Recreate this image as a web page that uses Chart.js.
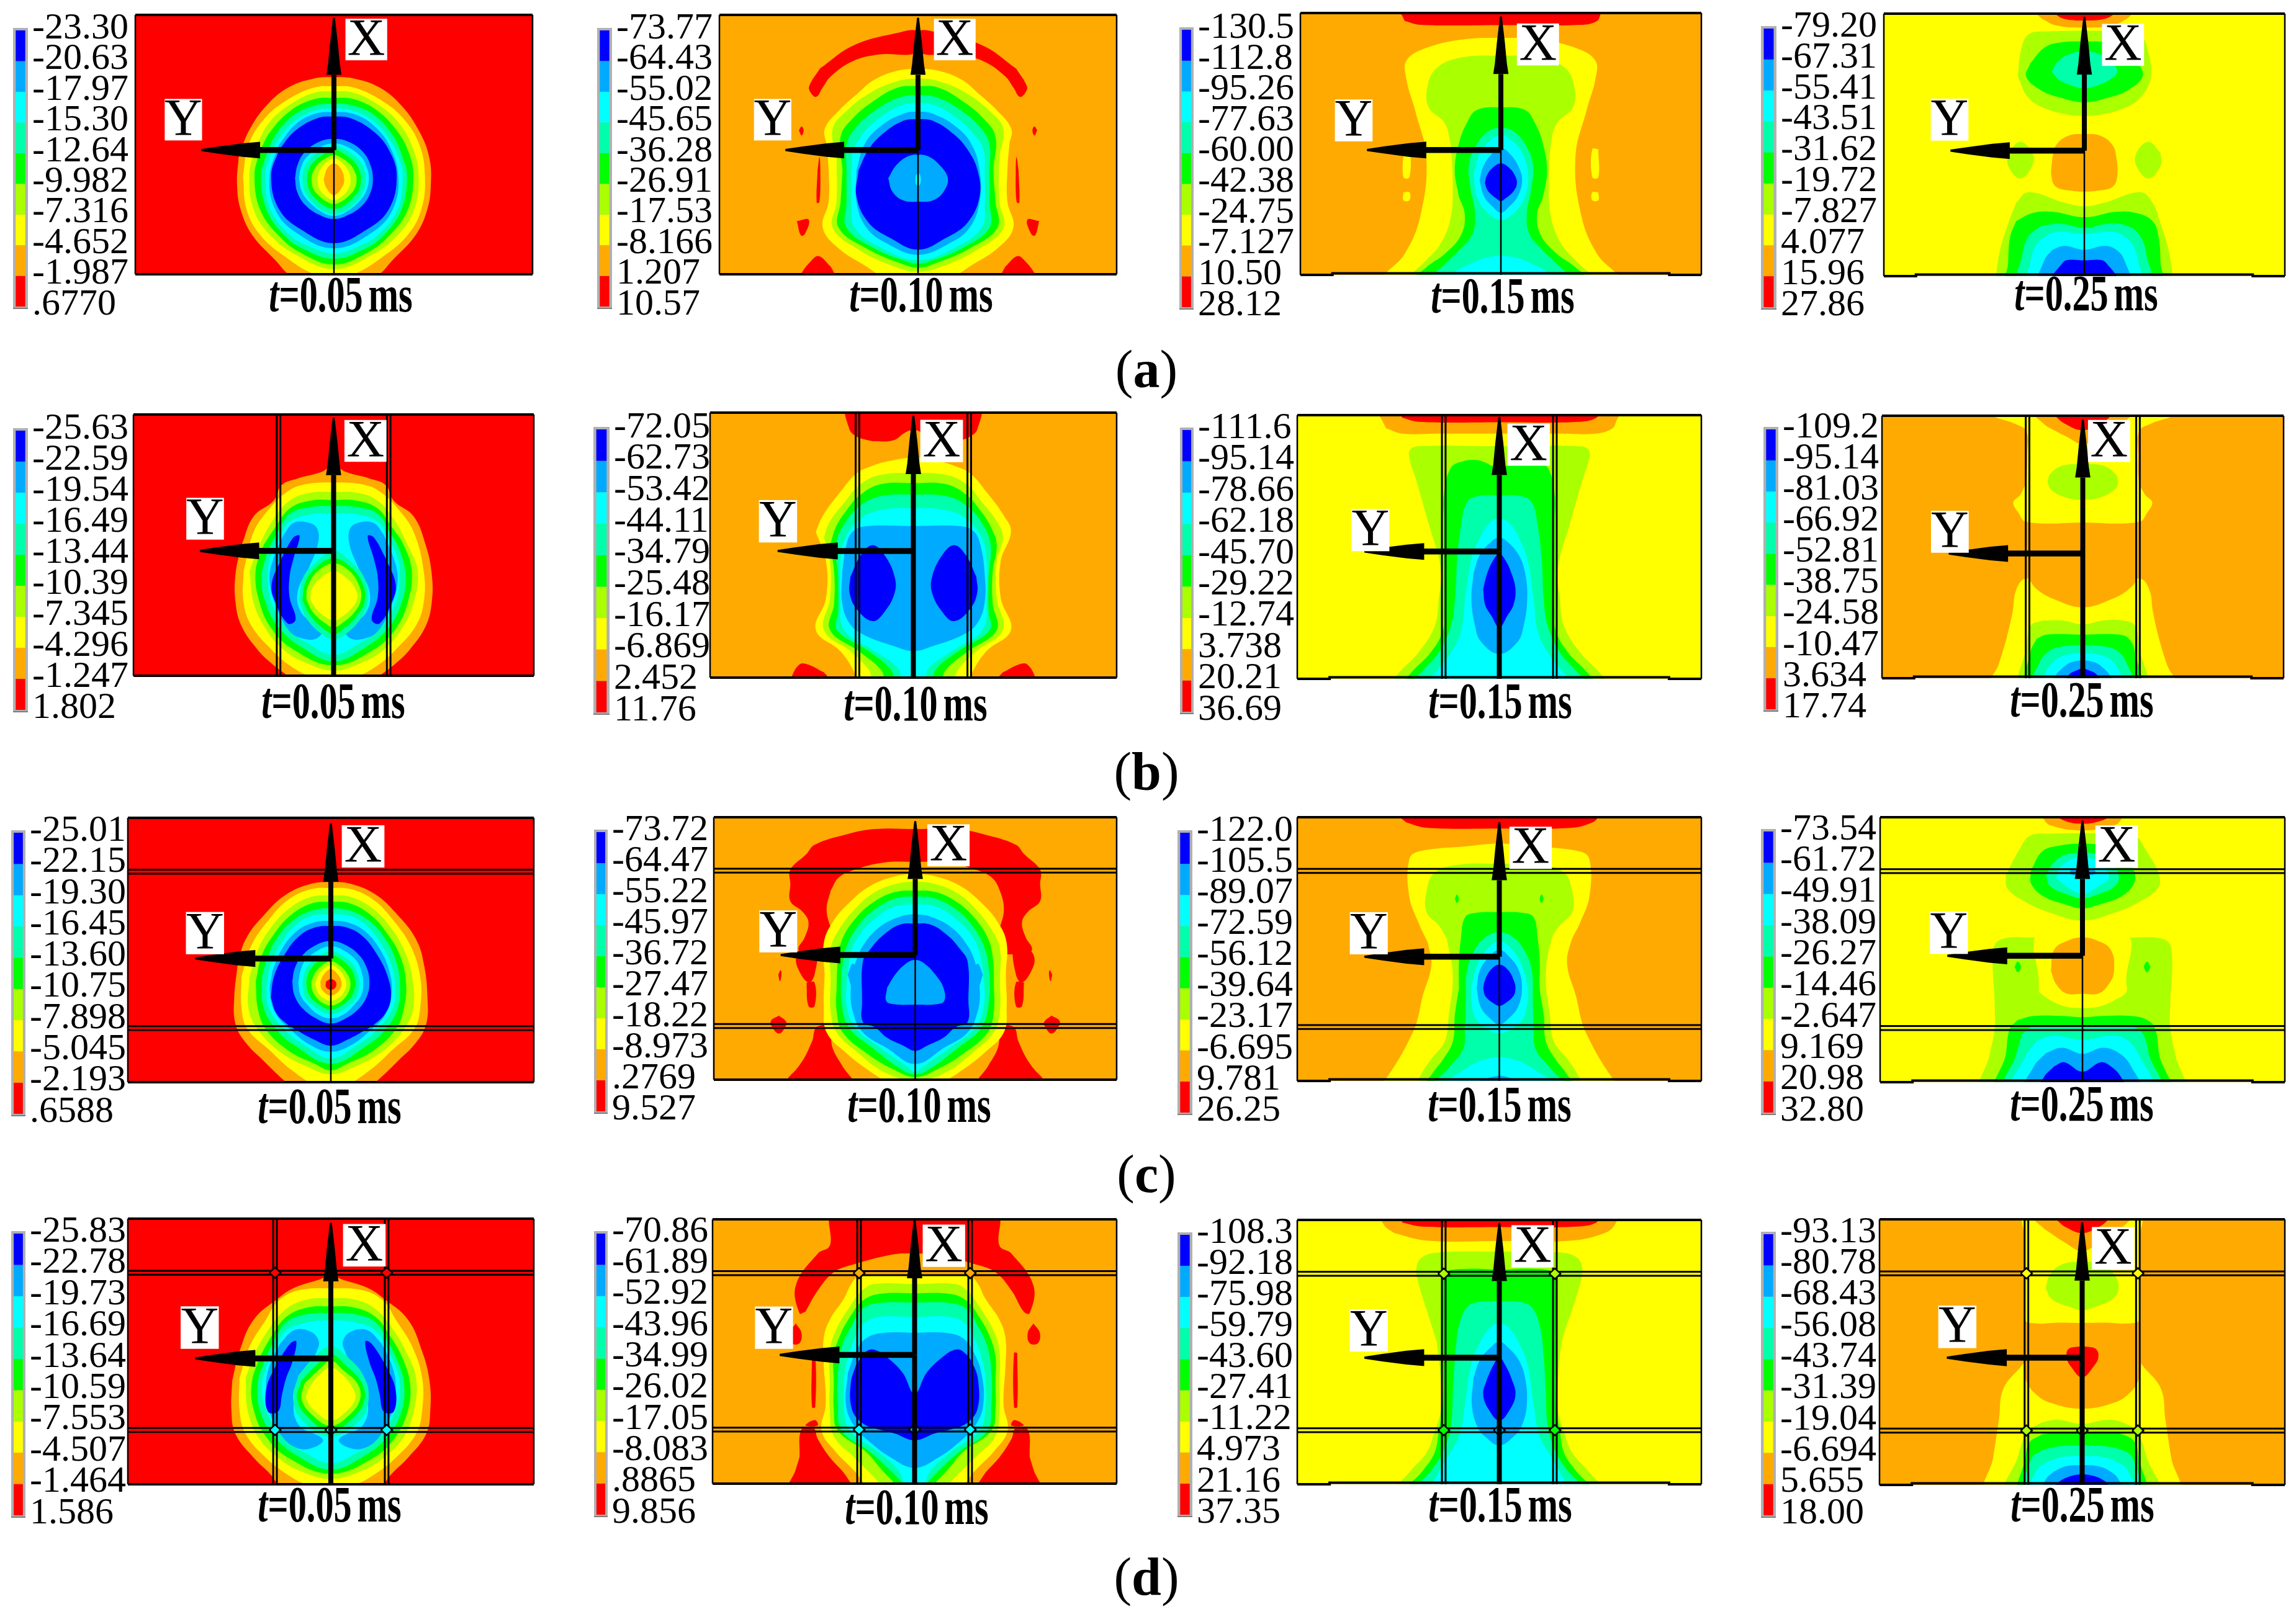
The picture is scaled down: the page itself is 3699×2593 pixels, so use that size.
<!DOCTYPE html>
<html>
<head>
<meta charset="utf-8">
<script src="https://cdn.jsdelivr.net/npm/chart.js@4"></script>
<style>
  body { margin: 0; background: #fff; }
  #page { position: relative; width: 3699px; height: 2593px; overflow: hidden; font-family: "Liberation Serif", serif; color: #000; }
  canvas { position: absolute; }
  .time { position: absolute; font-size: 82px; font-weight: bold; white-space: nowrap; word-spacing: -8px; transform: translate(-50%, -50%) scaleX(0.71); }
  .cap { position: absolute; font-size: 86px; white-space: nowrap; transform: translate(-50%, -50%); }
</style>
</head>
<body>
<div id="page"></div>
<script>
// level 0 is the top of the stress range (red), level 8 the bottom (blue)
const levelColors = ['rgb(255,0,0)', 'rgb(255,170,0)', 'rgb(255,255,0)', 'rgb(170,255,0)', 'rgb(0,255,0)', 'rgb(0,255,170)', 'rgb(0,255,255)', 'rgb(0,170,255)', 'rgb(0,0,255)'];

const rowCaptions = ['a', 'b', 'c', 'd'];
const timeLabels = ['0.05', '0.10', '0.15', '0.25'];

// legend tick labels
const ticksA1 = ['-23.30','-20.63','-17.97','-15.30','-12.64','-9.982','-7.316','-4.652','-1.987','.6770'];
const ticksA2 = ['-73.77','-64.43','-55.02','-45.65','-36.28','-26.91','-17.53','-8.166','1.207','10.57'];
const ticksA3 = ['-130.5','-112.8','-95.26','-77.63','-60.00','-42.38','-24.75','-7.127','10.50','28.12'];
const ticksA4 = ['-79.20','-67.31','-55.41','-43.51','-31.62','-19.72','-7.827','4.077','15.96','27.86'];
const ticksB1 = ['-25.63','-22.59','-19.54','-16.49','-13.44','-10.39','-7.345','-4.296','-1.247','1.802'];
const ticksB2 = ['-72.05','-62.73','-53.42','-44.11','-34.79','-25.48','-16.17','-6.869','2.452','11.76'];
const ticksB3 = ['-111.6','-95.14','-78.66','-62.18','-45.70','-29.22','-12.74','3.738','20.21','36.69'];
const ticksB4 = ['-109.2','-95.14','-81.03','-66.92','-52.81','-38.75','-24.58','-10.47','3.634','17.74'];
const ticksC1 = ['-25.01','-22.15','-19.30','-16.45','-13.60','-10.75','-7.898','-5.045','-2.193','.6588'];
const ticksC2 = ['-73.72','-64.47','-55.22','-45.97','-36.72','-27.47','-18.22','-8.973','.2769','9.527'];
const ticksC3 = ['-122.0','-105.5','-89.07','-72.59','-56.12','-39.64','-23.17','-6.695','9.781','26.25'];
const ticksC4 = ['-73.54','-61.72','-49.91','-38.09','-26.27','-14.46','-2.647','9.169','20.98','32.80'];
const ticksD1 = ['-25.83','-22.78','-19.73','-16.69','-13.64','-10.59','-7.553','-4.507','-1.464','1.586'];
const ticksD2 = ['-70.86','-61.89','-52.92','-43.96','-34.99','-26.02','-17.05','-8.083','.8865','9.856'];
const ticksD3 = ['-108.3','-92.18','-75.98','-59.79','-43.60','-27.41','-11.22','4.973','21.16','37.35'];
const ticksD4 = ['-93.13','-80.78','-68.43','-56.08','-43.74','-31.39','-19.04','-6.694','5.655','18.00'];

// contour bands, painted in order. [level, [y, halfWidth, ...]] is mirrored about the centre line,
// [level, [dx, y, ...], 1] is a closed outline that appears on both sides. All in % of the panel.
const bandsA1 = [
  [1,[24,0,24.5,5,28,11.5,35,17,45,21.5,55,24,65,24.4,75,23.5,85,20.5,95,14.5,100,11.5,103,8]],
  [2,[27.5,0,28,5,33,12,40,17.5,50,21.5,62,22.9,75,22,85,18.5,93,12.5,100,5,101,0]],
  [3,[29.5,0,30,5,35,11.5,42,16.5,52,20,62,21.3,75,20.2,85,16,93,9,98,0]],
  [4,[32,0,32.5,5,37,11,45,16,53,18.8,62,20,75,18.6,85,14,92,8,96.3,0]],
  [5,[34.3,0,35,5,39,10.5,47,15,55,17.3,62,18.4,75,17,85,12.5,90,8,94,0]],
  [6,[36,0,37,5,41,10,48,14,55,16.3,62,17.3,75,16,85,11,89,6.5,92,0]],
  [7,[37.5,0,38,4.5,42,9.5,50,13.8,62,16.2,75,14.8,84,9.5,90,0]],
  [8,[39.2,0,40,4.5,45,10,52,13.8,62,15.8,75,13.8,83,8,88,0]],
  [7,[47.8,0,49,3.8,53,7.4,58,9.2,63,9.8,68,9.3,73,7.4,77,3.8,78.7,0]],
  [6,[49.5,0,51,3.5,55,7,59,8.3,63,8.8,68,8.1,72,6.3,76,3,77.5,0]],
  [5,[50.5,0,52,3,56,6.3,60,7.7,63.5,8,68,7.4,72,5.6,75.5,2.8,76.8,0]],
  [4,[52,0,53.5,2.5,57,5.3,60,6.4,63.5,6.8,68,6.1,71,4.5,73.5,2.5,74.8,0]],
  [3,[54,0,55.5,2.3,58,4.3,61,5.4,63.5,5.7,67,5.2,70,3.6,72,1.8,72.9,0]],
  [2,[55.3,0,57,2,60,3.6,63.5,4.2,67,3.7,70,2,71.4,0]],
  [1,[57.3,0,59,1.6,63.5,2.6,67,1.8,69.5,0]]
];
const bandsA2 = [
  [0,[0,6.5,5.3,7,16.4,11.9,24.7,20.7,27.4,27.5,27,30,25.6,31.6,24,28,21.9,23.6,16.4,17.8,10,15.3,0,14.3],1],
  [0,[29.3,43,30,44.5,29.3,46.5,28.8,44.5],1],
  [0,[24.8,54.8,25.3,60,25.5,72.4,24.8,72,24.6,60],1],
  [0,[27.5,79,30.5,79.5,29.5,85,28.5,84.5],1],
  [0,[21,100,22,97,25,93,27,95,29.5,100,29.8,102,21,102],1],
  [2,[20.9,0,21.5,5,25,11,30,15,37,20,44,23.5,50,23,60,22.5,72,22.5,82,24,90,20,97,13,100,10,103,6]],
  [3,[24.6,0,25.5,5,30,12,37,18,44,21.5,55,20.5,72,20.5,82,21.5,90,15.5,97,6,99,0]],
  [4,[27.5,0,28,5,33,11,40,16.5,47,19.5,60,19,72,19.5,82,20,90,13,96,4,97.5,0]],
  [5,[31,0,32,5,37,11,44,16,50,18,60,18,72,18,82,18,90,11,95,3,96,0]],
  [6,[33.9,0,35,4.5,40,10,46,14,52,16.5,62,16.8,72,16.8,82,16,90,9,94.5,0]],
  [7,[37.3,0,38,3.5,43,9.5,50,13.5,60,15.5,72,15.5,82,13,88,8,92.5,0]],
  [8,[40.2,0,41,4,46,9,52,12.5,60,15,70,15.5,80,12.5,86,7,90.5,0]],
  [7,[53.9,0,54.5,2.5,58,5.5,63,7.5,68,6.5,71.5,3.8,72,0]],
  [6,[61,0,62,0.6,65,0.6,66,0]]
];
const bandsA3 = [
  [2,[9.5,0,10,9,13,18,18,23.5,25,23.6,37,21.4,55,18.6,77,20,92,24,99,28.5,103,31]],
  [2,[22.8,52,24.3,52,24.3,62.7,22.8,62.7],1],
  [2,[22.8,68.5,24.3,68.5,24.3,71.5,22.8,71.5],1],
  [0,[-2,26,0,25,3,24,4.5,20,4.6,0]],
  [3,[16.3,0,17,10,21,16,28,18.3,36,18,42,14,50,12.5,65,12,78,12.5,88,15,95,19,100,22.5,103,24]],
  [4,[36,0,37,6,42,8.5,50,10.5,60,11.5,70,10.5,77,9,85,10,92,14,97,18.5,103,22]],
  [5,[43.9,0,45,3,50,6,58,8,68,7.5,76,6.5,84,7,90,10,96,14,103,18]],
  [6,[46.5,0,49,3,54,5.5,62,6.8,70,6,76,3.5,79,0]],
  [6,[92.7,0,93.5,4,96,8,99,11.5,103,13]],
  [7,[51.6,0,54,2.4,59,4.5,64,5.3,70,4.2,74,2,76.3,0]],
  [8,[57.4,0,59,2,62,3.5,65,4,68,3.2,71,1,71.9,0]]
];
const bandsA4 = [
  [1,[-2,13,0,12,2,10.5,4.5,7,5.3,0]],
  [0,[-2,8,0,7.5,2,5,2.6,0]],
  [3,[6.8,10,8,14,14,15.8,24,16.6,32,14,36,10,38.5,4,39,0]],
  [4,[10.6,0,11,6,13,10,19,13.5,24,14.5,29,11,32,6,33.8,0]],
  [5,[14.5,0,15,3,18,6.5,22,8.2,25,6.5,27.5,3,28.5,0]],
  [1,[45.9,0,46.5,4,50,7,55,8,62,8.2,66,7,67.5,3,67.8,0]],
  [3,[16,48.8,19,53,19,58,16,62.8,13,58,13,53],1],
  [3,[73.4,0,72,5,68,14,72,17,80,19,90,21,100,22,103,22]],
  [4,[77.6,0,75.5,8,76,13,79,17,85,18.5,95,19,103,19]],
  [5,[81.6,0,80,6,81,11,85,14,92,15.5,103,16]],
  [6,[84,0,83,6,84,9,88,12,95,13.5,103,14]],
  [7,[90,0,88.5,5,90,8,94,10,103,11]],
  [8,[94,0,94,4.5,96,6,100,8,103,8.5]]
];
const bandsB1 = [
  [1,[19.5,0,22,3,24.5,9,27,13,33,15,39,20,50,23,61,24.5,72,24.5,81,23,90,19,95,15.7,100,11.5,103,9]],
  [2,[26,0,27,8,30,12,36,16,45,20,60,22.5,72,22.5,81,20.5,90,15.5,96,11,100,6,101,0]],
  [3,[29.7,0,30,6,33,11,40,15,50,18.5,60,21,72,20,82,17,90,12.5,95,7,98,0]],
  [4,[32.7,0,33,6,36,11,43,14.5,50,17.5,60,19.5,72,18.5,82,15.5,90,10,96,0]],
  [5,[35,0,35.5,6,38,11,45,14,52,16.5,62,18,72,17,82,13.5,90,7,94.5,0]],
  [6,[37.8,0,38.3,6,41,11,47,13.5,55,16,62,16.5,72,15.5,82,11.5,88,6,92,0]],
  [7,[4,44,6,41.5,10,41.5,12.5,46,15,55,16,63,14.5,73,11,83,7,86,4,85.5,3,82.5,8,76,9,68,6,58,4,50],1],
  [8,[8.5,46.5,10,47,13,55,15.5,65,14.5,72,11.5,80,9.5,78.5,11,70,11,62,10,55],1],
  [5,[52,0,56,4,62,7.5,71,8.6,78,6.8,84,3,86,0]],
  [4,[55,0,58,4,64,7,71,7.8,77,5.8,82,2.5,84,0]],
  [3,[57,0,60,4,66,6.5,71,6.8,76,5,80,2,81.5,0]],
  [2,[60,0,63,3.5,67,5.5,71,5.8,75,4,78,1.5,79,0]]
];
const bandsB2 = [
  [0,[-2,16,6,15.8,9,14,10.8,10,10.5,5,7.5,2,6.5,0]],
  [0,[21,100,22,98,26,95,28,95,30,100,30,103,21,103],1],
  [2,[17,0,18,5,20,10,23,14,30,18,39,22.3,45,24,56,21.5,70,21.5,82,24,90,18,98,14.5,103,13.5]],
  [3,[22.8,0,23.5,8,27,13,34,17,41,20.5,47,22,56,20.5,70,20.5,82,22,90,15.5,97,11,103,9]],
  [4,[26.6,0,27,8,31,13,37,16.5,43,19,50,20.5,60,19.5,72,19.5,82,20.5,90,13.5,97,8,103,6]],
  [5,[30.9,0,31.5,8,35,13,42,17,50,19,62,18.5,75,18.5,82,18.8,90,11,97,5.5,103,4]],
  [6,[36.1,0,36.5,7,40,13,48,17,56,18,70,18,82,17,90,9.5,97,3.5,103,3]],
  [7,[42.8,0,42.9,12,45,15,50,16.5,60,17.5,72,17.5,80,15.5,84,12,88,5,90,0]],
  [8,[10,50,13,54,15.5,62,15.7,68,14,74,10,78.7,7,75,4.6,68,4.6,62,7,54],1]
];
const bandsB3 = [
  [1,[-2,30,2,29,5,28,7,24,7,15,7,0]],
  [0,[-2,25,1,24,2.5,20,2.7,0]],
  [3,[11.8,0,11.8,20,13,22,16,22.3,25,20.5,41,17.5,58,14.5,70,15,80,16,90,20,98,25,103,27]],
  [4,[20,0,17.2,5,17.5,9,20,12,30,13.7,40,13.7,60,13.7,75,13.7,82,14,90,17,98,22,103,24]],
  [5,[30.5,0,30.6,5,33,8,42,9.5,55,10.5,70,11,80,12,90,15,97,19,103,22]],
  [6,[39.2,0,41,2.5,47,5,55,7,70,8.5,82,9.5,90,12,97,15.5,103,19]],
  [7,[46.4,0,48,2,53,4.8,60,6.4,70,6.9,80,6,86,4.5,90.6,0]],
  [8,[52.6,0,55,1.5,60,3,66,4,72,3.5,76,2,80.5,0]]
];
const bandsB4 = [
  [2,[-2,23,0,22.5,3,17,6,14,15,13.8,25,14,30,15.5,33,17.3,37,16,40.5,14,40.7,0]],
  [1,[-2,13,0,12,4,9,8,4,10.8,0]],
  [0,[-2,7.5,0,7,3,4.5,5.5,0]],
  [3,[18.5,0,19,5,22,8,25,8.8,28,8,31,4.5,32,0]],
  [2,[62,14,66,16.5,75,17.5,85,19,95,21,103,23]],
  [1,[55,0,55,14,62,13.5,66,11.5,70,7,73,0]],
  [3,[79.5,0,78,5,78,10,80,13,88,14,103,15]],
  [4,[83.4,0,83.4,9,85,11.5,90,13,103,13.5]],
  [5,[87.5,0,87.8,5,89,8,93,10.5,103,12]],
  [6,[90.4,0,91,4,93,7,97,9,103,10]],
  [7,[93.2,0,94,3,96,5,99,6.8,103,8]],
  [8,[96.3,0,97,1.5,98,3,100,4.2,103,5]]
];
const bandsC1 = [
  [1,[24.3,0,25,5,29,11,36,16,46,21,56,23,68,23.8,78,23.5,85,21,92,16.5,100,11,103,8]],
  [2,[26.5,0,27,5,31,10.5,38,15,48,19.5,60,22,72,22,80,20.5,88,15,95,10,101,4,102,0]],
  [3,[29.4,0,30,5,34,10,41,14.5,50,18,60,20,72,20.3,80,18,88,13,94,6,97,0]],
  [4,[31.8,0,32.5,5,37,10,44,14,52,17,62,18.5,72,18,80,16,88,10.5,93,4,95.5,0]],
  [5,[34.2,0,35,4.5,39,9.5,46,13.5,54,16,62,17,72,16.5,80,13.5,86,9,93,0]],
  [6,[36.6,0,37,4.5,41,9,48,12.5,56,15,64,15.8,72,15.2,80,11.5,86,6.5,91,0]],
  [7,[39,0,39.5,4,43,8.5,50,12.2,58,14.4,66,15,74,13.6,80,10,86,5,88.5,0]],
  [8,[40.9,0,41.5,4,45,8,52,11.5,60,14,68,14.8,74,13.4,78,10.8,80,8.8,84,4,86.2,0]],
  [7,[46.6,0,48,3.5,52,7,57,8.9,62,9.5,67,9,72,7,76,3.5,77.8,0]],
  [6,[48.6,0,50,3,54,6.3,58,7.5,62.5,8,67,7.5,71,5.6,74.5,3,75.9,0]],
  [5,[50.5,0,52,2.7,56,5.7,60,6.7,63,7,68,6.3,71.5,4,73.5,2,74.4,0]],
  [4,[51.9,0,53.5,2.5,57,4.9,60,5.8,63,6,67,5.3,70,3.5,72.5,0]],
  [3,[54.3,0,56,2.3,59,4,62,4.8,65,4.6,68,3.5,70,2,71,0]],
  [2,[55.7,0,57.5,2,60,3.2,63,3.8,66,3.2,68,2,69.2,0]],
  [1,[57.2,0,59,1.6,62,2.6,65,2.2,67.2,0]],
  [0,[61,0,62,1.2,64,1.2,65.1,0]]
];
const bandsC2 = [
  [0,[4.5,0,4.5,10,6.5,17,10.5,25,14,27,20,31,25.5,31,32,31,36,28,40,26.5,46,27.5,50,29,52,28,52,0]],
  [1,[17,0,17.3,8,20,15,23,19,28,21,35,22,42,21,45,20,52,20,52,0]],
  [0,[24.5,49,27.5,49,29.5,53,29,58,26.5,63,25,60],1],
  [0,[33.4,58.3,34,60,33.6,62.5,33.2,60],1],
  [0,[25,63,27,63,26.5,72,25,72],1],
  [0,[32,78,33.8,75.6,35.8,77.5,35.5,80,33.8,82.4,32.3,80],1],
  [0,[21.5,80,24.5,80,25.5,85,27.3,91,29.5,96,31.8,100,32,103,15,103,18,95,20.5,88],1],
  [2,[21.7,0,22.5,5,26,11,32,16,40,20.5,48,22.7,60,22.5,72,22.7,82,22,90,17,96,12,100,8,102,5]],
  [3,[24.6,0,25.5,5,29,10.5,35,15,43,19,50,21,62,21,74,21,82,19.5,90,14,96,9,100,3,100.5,0]],
  [4,[28,0,28.5,5,32,10,38,14.5,46,18,54,19.3,64,19.5,74,19.5,82,18,90,12,96,5.5,99,0]],
  [5,[30.3,0,31,5,35,10,41,14,49,17,58,18.3,70,18.3,80,16.5,88,10.5,96,3.5,98,0]],
  [6,[33.2,0,34,5,38,9.5,45,14,52,16,62,17,72,17,80,15,88,8.5,95,2,97,0]],
  [7,[37,0,38,4,42,9,49,13,56,15,65,16,74,15.5,82,13,88,7,94,0]],
  [8,[40.5,0,41,4,45,8,50,11,55,13,70,13.2,78,13,80,10,84,7,87,3,89,0]],
  [7,[54.4,0,56,2.5,60,5,65,7,70,7.2,71.3,5,71.4,0]],
  [7,[15.5,55.8,16.8,60,15.5,65,14.2,60],1]
];
const bandsC3 = [
  [0,[-2,25,0,24.5,2,23,4,18,4.3,0]],
  [2,[10,0,11,8,13,20,16,22.3,30,22.3,40,20,47.5,17.7,56,16.8,68,19,78,20.5,85,22.5,92,25,99,28,103,30]],
  [3,[17.7,0,18,10,21,16,28,18,36,18,41,15,46,13,60,11.5,75,12.5,85,13.5,92,17,98,19.5,103,20.5]],
  [4,[10.5,29.3,11,31,10.5,32.5,10,31],1],
  [4,[36,0,36.3,6,38,8.5,46,9.5,55,10,65,10,75,11,85,11.5,92,14,97,16.5,103,18.5]],
  [5,[43.6,0,45,3,50,6,58,8,70,8.3,80,8.5,88,9,95,12.5,103,16.5]],
  [6,[47,0,50,3,56,5.5,65,7,74,6.5,78,5,82,0]],
  [6,[91,0,92,4,94,7,97,10,100,13,103,14]],
  [7,[50.3,0,53,2.5,58,4.8,65,5.6,72,4.6,76,2.5,78.6,0]],
  [7,[98,0,99,3,100,5,103,6]],
  [8,[55.9,0,58,2.2,62,3.6,65,4,68,3.4,71,1,71.6,0]]
];
const bandsC4 = [
  [1,[-2,11,0,10,3,8,5,0]],
  [0,[-2,7,0,6.5,2,3,2.5,0]],
  [3,[6.2,8,7,13,12,15.5,22,19,27,18.5,32,14,36,8,39,0]],
  [4,[10,0,10.8,6,13,10,20,12.7,25,12.7,30,9.5,33,4,34.4,0]],
  [5,[13.4,0,14,4,17,7,22,9,26,8,29,4,30.6,0]],
  [6,[15,0,16,3,19,5.5,23,6.5,26,4,28,2,29,0]],
  [7,[19.5,0,20,3,21.5,3,22,0]],
  [3,[45.5,11,46,20,50,22,70,21.7,80,21.7,90,23,103,24.5]],
  [2,[44,10.8,62,10.8,66,10.8,69,8,71.5,4,72,0]],
  [1,[45.4,0,46.5,3.5,50,7,58,7.8,63,6.5,66.5,4,66.6,0]],
  [4,[16,54.5,16.8,56.5,16,58.5,15.2,56.5],1],
  [4,[75.5,0,75,5,75,12,76.5,16,80,18,90,19,103,21]],
  [5,[79,0,79,12,82,15,90,16.5,103,19]],
  [6,[84,0,82.5,7,84,11,90,14,103,17]],
  [7,[89.3,0,87,5,89,9,94,12,103,14]],
  [8,[96,0,92.5,4.5,94,7,98,9.5,103,10.5]]
];
const bandsD1 = [
  [1,[21.5,0,23,3,26,9,30,13,38,19,50,22.5,61,24.3,72,24.5,81,23.5,90,19,96,15,100,13,103,11]],
  [2,[26.2,0,27,8,31,13,38,16,48,20,60,22.5,72,22.5,81,21,90,16,96,11,100,6,101,0]],
  [3,[30,0,30.5,6,34,11,41,15,50,18.5,60,21,72,20.5,82,18,90,13,95,7.5,98,0]],
  [4,[33,0,33.5,6,37,11,44,14.5,52,17.5,62,19.5,72,19,82,16,90,10.5,96,0]],
  [5,[35.5,0,36,6,39,11,46,14,54,16.5,62,18,72,17.5,82,14,90,7.5,94.5,0]],
  [6,[38.3,0,39,6,42,11,48,13.5,56,16,63,17,72,16,82,12,88,6.5,92,0]],
  [7,[3,46,5,42.5,9,42,12.5,47,15,55,16,63,15,73,12,82,8,86.5,4,86,2,83,8,77.5,9,68,6,58,3.5,50],1],
  [8,[8.5,46.2,10,47,13.5,55,15.9,64,15.5,72.6,13,72.6,12,66,11,60,9.5,54],1],
  [5,[48,0,52,4,59,8,68,9.3,76,7,82,0]],
  [4,[51,0,55,3.5,61,7.3,68,8.3,75,5.5,80,0]],
  [3,[53.5,0,57,3,62,6.5,68,7.2,74,4.5,78,0]],
  [2,[56,0,59,3,64,5.5,68,6,73,3.5,76,0]]
];
const bandsD2 = [
  [0,[-2,20,10,21,13,24,25,29.4,35.5,28.5,34.9,27,27,24,20,20,17,15,13.2,5,13,0]],
  [0,[28,43,29.4,39.4,31,43,30.5,46.9,28.5,46.9],1],
  [0,[24.6,50.5,25.4,50.5,25.4,71,24.6,71],1],
  [0,[24.5,76,26,76.5,27,78,24,78],1],
  [0,[25,79,28,79.5,28.5,90,29.5,95,31.2,103,15.5,103,17,97,21,90,24,83],1],
  [2,[21.5,0,21.5,13.5,24,15.5,30,17.5,38,21,45,22.5,55,22.5,70,22,80,23,88,19.5,95,15,100,12.5,103,11]],
  [3,[24.5,0,24.5,10,27,13,33,16,42,19.5,50,21,62,21,72,21,82,20,90,15,96,11,100,8.5,103,6]],
  [4,[28,0,28.3,9,31,13,37,16,44,18.5,52,20,62,20,72,20,80,19,88,12,95,8,100,5,103,4]],
  [5,[31.5,0,31.7,9,34,13,40,15.5,48,18,58,19,70,19,80,18,88,11,95,6,100,3,103,2]],
  [6,[37,0,37,9,40,13,45,14.8,52,16.5,60,17.5,72,17.5,80,16,88,9,95,4,103,1.5]],
  [7,[42.9,0,43,8,45,12,50,14.5,58,16.5,70,17,78,15,85,10.5,90,6,94,0]],
  [8,[66,0,58,3,52,7,49.3,10,50,12,55,14.5,62,15.8,72,15.5,77,13,79,10,81,5,83.6,0]]
];
const bandsD3 = [
  [1,[-2,29,2,28.5,5,26,7.8,18,8,0]],
  [0,[-2,24.5,1,24,2.5,19,2.7,0]],
  [3,[12,0,12.3,15,14,19,18,20.5,24,20,34,18,46,15.5,60,14.5,72,14.5,80,16,88,18,95,22,103,25.5]],
  [4,[18.8,0,18.5,8,20,13.5,25,14,45,14,70,14,80,15,88,16,95,19,103,23]],
  [5,[30.8,0,31,5,33,8,40,10,52,11,65,11.5,78,12,88,14,95,17,103,21]],
  [6,[39.2,0,41,2.5,47,5,55,7,70,8.5,82,10,90,13,97,15.5,103,17]],
  [7,[46,0,48,2,53,4.8,60,6.4,70,6.8,78,5.5,82,3.5,85.3,0]],
  [8,[52,0,55,1.5,60,3,66,4,72,2.5,75.9,0]]
];
const bandsD4 = [
  [2,[-2,14,8,14,18,14,30,14,38,14,39,13,39.5,0]],
  [1,[-2,13,0,12,4,9,9,4,12,0]],
  [0,[-2,7,0,6.5,3,4,5.2,0]],
  [3,[16,0,17,5,21,8,26,9,30,7.5,33,3,34.3,0]],
  [2,[53,13,56,15.4,64,19.5,75,20.5,90,22,103,23.5]],
  [1,[39,0,39.2,9,41,12,45,13.5,52,14.5,60,14,65,12,69,8,71.3,0]],
  [0,[48,1.5,49,3.5,52,4,55,3,59.5,0]],
  [3,[77,0,75.5,6,76.5,10,80,13.5,90,16,103,18.5]],
  [4,[80.5,0,80,5,81,10,84,13,90,14,103,15]],
  [5,[85.2,0,85.5,6,87,10,90,12.5,103,13.5]],
  [6,[89.1,0,89.5,5,91,8,94,11,103,12.5]],
  [7,[92.6,0,93,4,95,7,98,9,103,10]],
  [8,[96,0,96.5,2.5,98,5,100,6.5,103,7]]
];

const allTicks = [ticksA1,ticksA2,ticksA3,ticksA4,ticksB1,ticksB2,ticksB3,ticksB4,ticksC1,ticksC2,ticksC3,ticksC4,ticksD1,ticksD2,ticksD3,ticksD4];
const allBands = [bandsA1,bandsA2,bandsA3,bandsA4,bandsB1,bandsB2,bandsB3,bandsB4,bandsC1,bandsC2,bandsC3,bandsC4,bandsD1,bandsD2,bandsD3,bandsD4];
// level that fills each panel behind its bands
const backLevels = [0,1,1,2, 0,1,2,1, 0,1,1,2, 0,1,2,1];

// joint seams, % of the panel
const seamColumns = [35.8,36.7,63.3,64.2];
const seamRows = [19.6,21.1,78.8,80.3];
const rowHasColumns = [false,true,false,true];
const rowHasRows = [false,false,true,true];
// row (d) only: level showing in the joint crossings [upper side, upper centre, lower side, lower centre]
const nodeLevels = [[0,0,6,6],[1,1,6,7],[3,3,4,7],[2,3,3,3]];
const nodeColumns = [36.25,50,63.75];
const nodeRows = [20.35,79.55];

// layout in page pixels: panel [left, top, right, bottom]
const panelBoxes = [
  [218,24,858,442],[1159,24,1799,442],[2095,21,2741,443],[3035,22,3681,445],
  [215,668,860,1089],[1144,665,1799,1092],[2090,669,2741,1094],[3032,670,3679,1093],
  [206,1318,860,1744],[1150,1317,1799,1740],[2090,1317,2741,1742],[3029,1317,3681,1744],
  [206,1964,860,2392],[1148,1965,1799,2391],[2090,1966,2741,2392],[3028,1965,3681,2393]
];
// colour bar [left, right, first label centre, last label centre]
const barBoxes = [
  [21,45,43,488],[962,986,43,488],[1900,1923,42,489],[2837,2862,40,489],
  [21,45,688,1138],[956,982,686,1142],[1901,1923,687,1141],[2841,2865,686,1137],
  [18,41,1336,1789],[957,979,1335,1785],[1897,1921,1336,1787],[2837,2861,1334,1787],
  [18,41,1982,2436],[957,979,1982,2435],[1897,1921,1984,2435],[2837,2861,1983,2436]
];
const timePos = [
  [549,475],[1484,475],[2421,477],[3361,473],
  [537,1130],[1475,1134],[2417,1130],[3354,1128],
  [531,1783],[1481,1781],[2416,1780],[3354,1779],
  [531,2425],[1477,2429],[2417,2425],[3355,2425]
];
const captionPos = [[1847,595],[1847,1243],[1847,1892],[1847,2541]];
// axis origin height, X tag and Y tag corner, % of the panel
const originY = [52.1,52.1,52.3,52.2, 52.2,52.2,51.7,52.5, 53.2,52.5,52.9,52.3, 52.6,51.3,52.1,52.1];
const xTags = [[52.9,1.5],[54,1.5],[54,4],[54.4,3.9],[52.7,2.1],[51.7,2.7],[52,3.2],[51.3,1.6],[52.7,2.8],[53,2.7],[52.5,3.6],[53.2,3.1],[53,2],[52,2],[53,2],[52.4,2.9]];
const yTags = [[7.4,32.4],[8.7,32.4],[8.6,33],[11.7,32.4],[13.2,31.9],[12,33],[13.4,35.6],[12.2,36.2],[14.3,35.6],[11.3,35.5],[13,36],[12.3,35.6],[13,33],[10.5,33],[13,33.8],[14.5,32.5]];

const page = document.getElementById('page');
Chart.defaults.font.family = '"Liberation Serif", serif';

function addCanvas(left, top, width, height) {
  const c = document.createElement('canvas');
  c.width = width; c.height = height;
  c.style.left = left + 'px'; c.style.top = top + 'px';
  c.style.width = width + 'px'; c.style.height = height + 'px';
  page.appendChild(c);
  return c.getContext('2d');
}

// turn a band into closed outlines; start mid-side so the tension stays smooth at the tips
function closeOutline(pts) {
  const k = Math.floor(pts.length / 4);
  const out = pts.slice(k).concat(pts.slice(0, k));
  out.push(out[0]);
  return out;
}
function bandOutlines(band) {
  const v = band[1];
  if (band[2]) {
    const right = [], left = [];
    for (let i = 0; i < v.length; i += 2) {
      right.push({x: 50 + v[i], y: v[i + 1]});
      left.push({x: 50 - v[i], y: v[i + 1]});
    }
    return [closeOutline(right), closeOutline(left)];
  }
  const down = [], up = [];
  for (let i = 0; i < v.length; i += 2) {
    down.push({x: 50 - v[i + 1], y: v[i]});
    if (v[i + 1] > 0) up.unshift({x: 50 + v[i + 1], y: v[i]});
  }
  return [closeOutline(down.concat(up))];
}

function solid(data, color, tension) {
  return {data: data, showLine: true, fill: 'shape', backgroundColor: color, borderColor: color, borderWidth: 0, pointRadius: 0, tension: tension};
}
function stroke(data, width, clip) {
  return {data: data, showLine: true, fill: false, borderColor: '#000', borderWidth: width, pointRadius: 0, tension: 0, clip: clip};
}

function drawPanel(i) {
  const row = Math.floor(i / 4), col = i % 4;
  const box = panelBoxes[i], pad = 6;
  const ctx = addCanvas(box[0] - pad, box[1] - pad, box[2] - box[0] + pad * 2, box[3] - box[1] + pad * 2);
  const y0 = originY[i];

  const sets = [solid([{x:0,y:0},{x:100,y:0},{x:100,y:100},{x:0,y:100}], levelColors[backLevels[i]], 0)];
  allBands[i].forEach(band => {
    bandOutlines(band).forEach(o => sets.push(solid(o, levelColors[band[0]], 0.4)));
  });
  if (rowHasColumns[row]) seamColumns.forEach(x => sets.push(stroke([{x:x,y:0},{x:x,y:100}], 3, 0)));
  if (rowHasRows[row]) seamRows.forEach(y => sets.push(stroke([{x:0,y:y},{x:100,y:y}], 3, 0)));

  // crossings of the joints in row (d)
  if (rowHasColumns[row] && rowHasRows[row]) {
    nodeRows.forEach((ny, r) => {
      nodeColumns.forEach(nx => {
        const lvl = nodeLevels[col][r * 2 + (nx === 50 ? 1 : 0)];
        const d = solid([{x:nx-1.4,y:ny},{x:nx,y:ny-2},{x:nx+1.4,y:ny},{x:nx,y:ny+2},{x:nx-1.4,y:ny}], levelColors[lvl], 0);
        d.borderColor = '#000';
        d.borderWidth = 2.5;
        sets.push(d);
      });
    });
  }

  // panel edge; the joints sit a step higher in the two right columns
  sets.push(stroke([{x:0,y:0},{x:100,y:0}], 4, pad));
  if (col >= 2) {
    sets.push(stroke([{x:0,y:100},{x:8,y:100},{x:8,y:99.4},{x:92,y:99.4},{x:92,y:100},{x:100,y:100}], 4, pad));
  } else {
    sets.push(stroke([{x:0,y:100},{x:100,y:100}], 4, pad));
  }
  sets.push(stroke([{x:0,y:0},{x:0,y:100}], 2.5, pad));
  sets.push(stroke([{x:100,y:0},{x:100,y:100}], 2.5, pad));

  // axes triad: centre line, X arrow and Y arrow
  sets.push(stroke([{x:50,y:y0},{x:50,y:100}], rowHasColumns[row] ? 8 : 2.5, 0));
  sets.push(stroke([{x:50,y:y0},{x:50,y:y0 - 29}], 8, 0));
  sets.push(solid([{x:48.1,y:y0-29},{x:48.5,y:y0-33},{x:49,y:y0-41},{x:49.75,y:y0-51},{x:50.25,y:y0-51},{x:51,y:y0-41},{x:51.5,y:y0-33},{x:51.9,y:y0-29}], '#000', 0));
  sets.push(stroke([{x:50,y:y0},{x:31,y:y0}], 9.5, 0));
  sets.push(solid([{x:31.4,y:y0-3.2},{x:31.4,y:y0+3.2},{x:27,y:y0+2.6},{x:21,y:y0+1.4},{x:16.6,y:y0+0.4},{x:16.6,y:y0-0.4},{x:21,y:y0-1.4},{x:27,y:y0-2.6}], '#000', 0));

  // later sets paint over earlier ones
  sets.forEach((s, k) => { s.order = -k; });

  const tags = {
    id: 'axisTags',
    afterDatasetsDraw(chart) {
      const c = chart.ctx, sx = chart.scales.x, sy = chart.scales.y;
      const tag = (text, at, w, h) => {
        const l = sx.getPixelForValue(at[0]), t = sy.getPixelForValue(at[1]);
        const r = sx.getPixelForValue(at[0] + w), b = sy.getPixelForValue(at[1] + h);
        c.save();
        c.fillStyle = '#fff';
        c.fillRect(l, t, r - l, b - t);
        c.fillStyle = '#000';
        c.font = '84px "Liberation Serif"';
        c.textAlign = 'center';
        c.textBaseline = 'middle';
        c.fillText(text, (l + r) / 2, (t + b) / 2 + 3);
        c.restore();
      };
      tag('X', xTags[i], 10.5, 16);
      tag('Y', yTags[i], 9.4, 16);
    }
  };

  new Chart(ctx, {
    type: 'scatter',
    data: {datasets: sets},
    plugins: [tags],
    options: {
      responsive: false, animation: false, devicePixelRatio: 1,
      layout: {padding: pad},
      plugins: {legend: {display: false}, tooltip: {enabled: false}},
      scales: {
        x: {display: false, min: 0, max: 100},
        y: {display: false, min: 0, max: 100, reverse: true}
      }
    }
  });
}

function drawBar(i) {
  const b = barBoxes[i], labels = allTicks[i];
  const values = labels.map(parseFloat);
  const nudge = 6; // tick positions sit a little under the label centres
  const padTop = 40, padBottom = 40, labelWidth = 175;
  const width = b[1] - b[0] + labelWidth;
  const height = b[3] - b[2] + padTop + padBottom;
  const ctx = addCanvas(b[0], b[2] + nudge - padTop, width, height);

  const segments = [];
  for (let k = 0; k < 9; k++) {
    segments.push({data: [[values[k], values[k + 1]]], backgroundColor: levelColors[8 - k], barPercentage: 0.64, categoryPercentage: 1, grouped: false});
  }
  const frame = {
    id: 'barFrame',
    beforeDatasetsDraw(chart) {
      const a = chart.chartArea, c = chart.ctx;
      c.save();
      c.fillStyle = '#b0b0b0';
      c.fillRect(a.left, a.top - 4, a.right - a.left, a.bottom - a.top + 8);
      c.fillStyle = '#7d7d7d';
      c.fillRect(a.left, a.bottom + 2, a.right - a.left, 2);
      c.restore();
    }
  };

  new Chart(ctx, {
    type: 'bar',
    data: {labels: ['stress'], datasets: segments},
    plugins: [frame],
    options: {
      responsive: false, animation: false, devicePixelRatio: 1,
      layout: {padding: {top: padTop, bottom: padBottom, left: 0, right: 0}},
      plugins: {legend: {display: false}, tooltip: {enabled: false}},
      scales: {
        x: {display: false, grid: {display: false}},
        y: {
          position: 'right', reverse: true, min: values[0], max: values[9],
          grid: {display: false, drawTicks: false}, border: {display: false},
          afterBuildTicks: s => { s.ticks = values.map(v => ({value: v})); },
          afterFit: s => { s.width = labelWidth; },
          ticks: {
            autoSkip: false, color: '#000', padding: 7, labelOffset: 3 - nudge,
            font: {size: 60, family: '"Liberation Serif"', lineHeight: 1},
            callback: (v, k) => labels[k]
          }
        }
      }
    }
  });
}

for (let i = 0; i < 16; i++) {
  drawBar(i);
  drawPanel(i);
  const t = document.createElement('div');
  t.className = 'time';
  t.style.left = timePos[i][0] + 'px';
  t.style.top = timePos[i][1] + 'px';
  t.innerHTML = '<i>t</i>=' + timeLabels[i % 4] + ' ms';
  page.appendChild(t);
}
rowCaptions.forEach((c, k) => {
  const d = document.createElement('div');
  d.className = 'cap';
  d.style.left = captionPos[k][0] + 'px';
  d.style.top = captionPos[k][1] + 'px';
  d.innerHTML = '(<b>' + c + '</b>)';
  page.appendChild(d);
});
</script>
</body>
</html>
